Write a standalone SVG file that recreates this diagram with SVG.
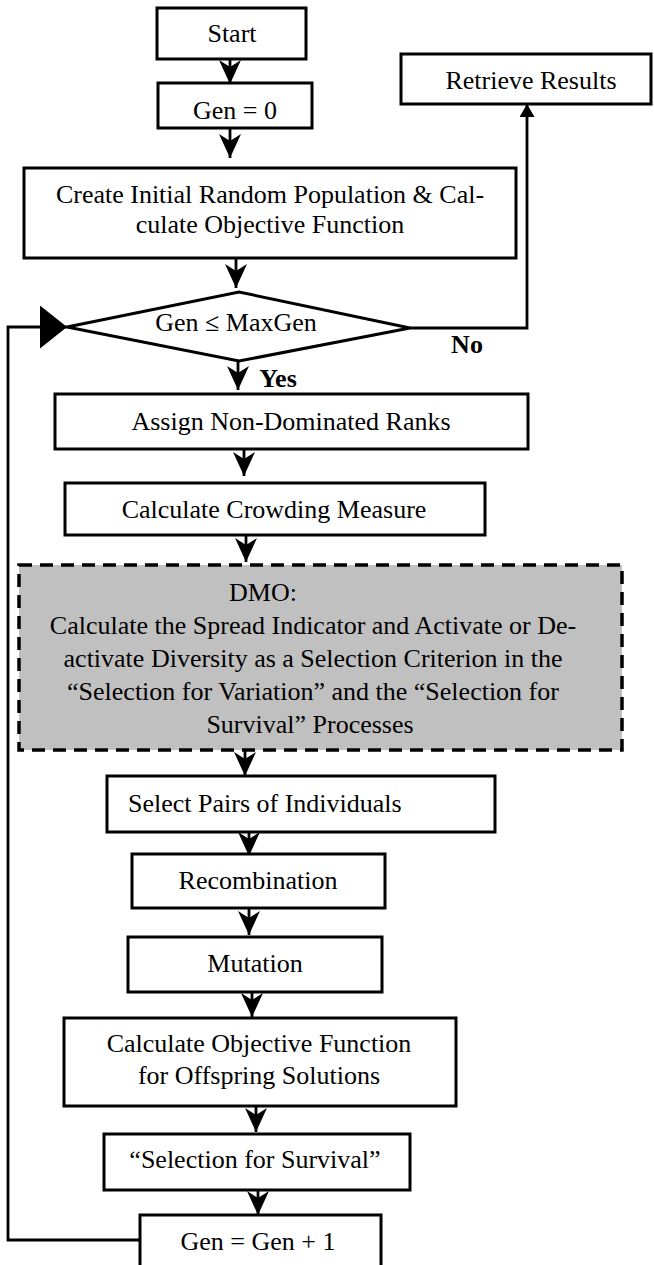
<svg xmlns="http://www.w3.org/2000/svg" width="654" height="1265" viewBox="0 0 654 1265">
<style>
.box{fill:#fff;stroke:#000;stroke-width:3}
.dmo{fill:#c0c0c0;stroke:#000;stroke-width:3.5;stroke-dasharray:13 8}
.t{font-family:"Liberation Serif","Times New Roman",serif;font-size:26px;fill:#000;text-anchor:middle}
.b{font-weight:bold}
.c{fill:none;stroke:#000;stroke-width:2.8}
</style>
<defs>
<marker id="stealth" viewBox="0 0 24 22" markerWidth="24" markerHeight="22" refX="24" refY="11" orient="auto" markerUnits="userSpaceOnUse">
<path d="M24,11 L0,0 L7,11 L0,22 Z" fill="#000"/>
</marker>
<marker id="small" viewBox="0 0 13 15" markerWidth="13" markerHeight="15" refX="13" refY="7.5" orient="auto" markerUnits="userSpaceOnUse">
<path d="M13,7.5 L0,0 L0,15 Z" fill="#000"/>
</marker>
<marker id="big" viewBox="0 0 27 43" markerWidth="27" markerHeight="43" refX="27" refY="21.5" orient="auto" markerUnits="userSpaceOnUse">
<path d="M27,21.5 L0,0 L0,43 Z" fill="#000"/>
</marker>
</defs>

<g id="connectors">
<line class="c" x1="230" y1="59" x2="230" y2="84" marker-end="url(#stealth)"/>
<line class="c" x1="230" y1="128" x2="230" y2="158" marker-end="url(#stealth)"/>
<line class="c" x1="236" y1="258" x2="236" y2="288" marker-end="url(#stealth)"/>
<line class="c" x1="238" y1="360" x2="238" y2="390" marker-end="url(#stealth)"/>
<line class="c" x1="244" y1="449" x2="244" y2="476" marker-end="url(#stealth)"/>
<line class="c" x1="246" y1="535" x2="246" y2="562" marker-end="url(#stealth)"/>
<line class="c" x1="245" y1="750" x2="245" y2="776" marker-end="url(#stealth)"/>
<line class="c" x1="249" y1="832" x2="249" y2="856" marker-end="url(#stealth)"/>
<line class="c" x1="249" y1="908" x2="249" y2="935" marker-end="url(#stealth)"/>
<line class="c" x1="252" y1="992" x2="252" y2="1017" marker-end="url(#stealth)"/>
<line class="c" x1="256" y1="1106" x2="256" y2="1132" marker-end="url(#stealth)"/>
<line class="c" x1="258" y1="1190" x2="258" y2="1215" marker-end="url(#stealth)"/>
<polyline class="c" points="410,328 527,328 527,104" marker-end="url(#small)"/>
<polyline class="c" points="140,1240 8,1240 8,327 67,327" marker-end="url(#big)"/>
<text class="t b" x="467" y="353">No</text>
<text class="t b" x="278" y="387">Yes</text>
</g>

<g id="start">
<rect class="box" x="157" y="8" width="149" height="51"/>
<text class="t" x="232" y="42">Start</text>
</g>
<g id="gen0">
<rect class="box" x="158" y="83" width="154" height="45"/>
<text class="t" x="235" y="119">Gen = 0</text>
</g>
<g id="retrieve">
<rect class="box" x="401" y="54" width="250" height="50"/>
<text class="t" x="531" y="89">Retrieve Results</text>
</g>
<g id="create">
<rect class="box" x="24" y="168" width="492" height="90"/>
<text class="t" x="270" y="203">Create Initial Random Population &amp; Cal-</text>
<text class="t" x="270" y="233">culate Objective Function</text>
</g>
<g id="decision">
<polygon class="box" points="67,327 239,292 410,328 239,361"/>
<text class="t" x="236" y="331">Gen ≤ MaxGen</text>
</g>
<g id="assign">
<rect class="box" x="55" y="394" width="473" height="55"/>
<text class="t" x="291" y="430">Assign Non-Dominated Ranks</text>
</g>
<g id="crowding">
<rect class="box" x="65" y="483" width="420" height="52"/>
<text class="t" x="274" y="518">Calculate Crowding Measure</text>
</g>
<g id="dmo">
<rect class="dmo" x="19" y="565" width="603" height="185"/>
<text class="t" x="229" y="601" style="text-anchor:start">DMO:</text>
<text class="t" x="313" y="634">Calculate the Spread Indicator and Activate or De-</text>
<text class="t" x="313" y="667">activate Diversity as a Selection Criterion in the</text>
<text class="t" x="313" y="700">“Selection for Variation” and the “Selection for</text>
<text class="t" x="310" y="733">Survival” Processes</text>
</g>
<g id="select">
<rect class="box" x="107" y="776" width="388" height="56"/>
<text class="t" x="128" y="812" style="text-anchor:start">Select Pairs of Individuals</text>
</g>
<g id="recombination">
<rect class="box" x="132" y="854" width="253" height="54"/>
<text class="t" x="258" y="889">Recombination</text>
</g>
<g id="mutation">
<rect class="box" x="128" y="937" width="254" height="55"/>
<text class="t" x="255" y="972">Mutation</text>
</g>
<g id="calcoffspring">
<rect class="box" x="64" y="1018" width="392" height="88"/>
<text class="t" x="259" y="1052">Calculate Objective Function</text>
<text class="t" x="259" y="1084">for Offspring Solutions</text>
</g>
<g id="survival">
<rect class="box" x="104" y="1134" width="306" height="56"/>
<text class="t" x="255" y="1168">“Selection for Survival”</text>
</g>
<g id="genplus">
<rect class="box" x="140" y="1215" width="241" height="70"/>
<text class="t" x="258" y="1250">Gen = Gen + 1</text>
</g>
</svg>
